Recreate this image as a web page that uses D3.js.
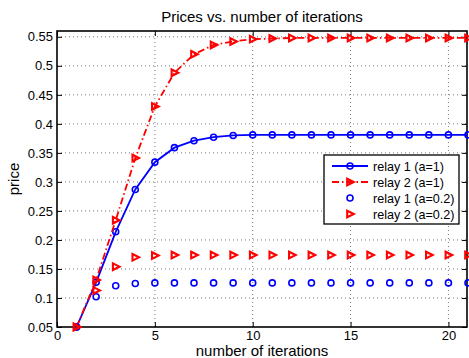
<!DOCTYPE html>
<html>
<head>
<meta charset="utf-8">
<script src="https://cdn.jsdelivr.net/npm/d3@7"></script>
<style>
  body { margin: 0; background: #fff; }
  svg { display: block; font-family: "Liberation Sans", Arial, sans-serif; }
</style>
</head>
<body>
<svg id="chart" width="469" height="358"></svg>
<script>
// Iteration index
const iterations = d3.range(1, 22);

// Price trajectories for each relay and step size
const relay1_a1 = [0.05, 0.127, 0.214, 0.287, 0.334, 0.359, 0.371, 0.377, 0.380, 0.381, 0.381, 0.381, 0.381, 0.381, 0.381, 0.381, 0.381, 0.381, 0.381, 0.381, 0.381];
const relay2_a1 = [0.05, 0.131, 0.234, 0.341, 0.430, 0.488, 0.520, 0.536, 0.542, 0.546, 0.547, 0.548, 0.548, 0.548, 0.548, 0.548, 0.548, 0.548, 0.548, 0.548, 0.548];
const relay1_a02 = [0.05, 0.102, 0.121, 0.125, 0.126, 0.126, 0.126, 0.126, 0.126, 0.126, 0.126, 0.126, 0.126, 0.126, 0.126, 0.126, 0.126, 0.126, 0.126, 0.126, 0.126];
const relay2_a02 = [0.05, 0.113, 0.154, 0.170, 0.173, 0.174, 0.174, 0.174, 0.174, 0.174, 0.174, 0.174, 0.174, 0.174, 0.174, 0.174, 0.174, 0.174, 0.174, 0.174, 0.174];

const xTicks = [0, 5, 10, 15, 20];
const yTicks = [0.05, 0.1, 0.15, 0.2, 0.25, 0.3, 0.35, 0.4, 0.45, 0.5, 0.55];
const legendLabels = ["relay 1 (a=1)", "relay 2 (a=1)", "relay 1 (a=0.2)", "relay 2 (a=0.2)"];

const svg = d3.select("#chart");
const margin = { left: 57, top: 31, right: 1, bottom: 31 };
const W = 469, H = 358;
const x = d3.scaleLinear().domain([0, 21]).range([margin.left, W - margin.right]);
const y = d3.scaleLinear().domain([0.05, 0.56]).range([H - margin.bottom, margin.top]);

// Dotted grid
const grid = svg.append("g").attr("stroke", "#555").attr("stroke-width", 0.8).attr("stroke-dasharray", "1,3");
grid.selectAll(".gx").data(xTicks.filter(d => d > 0)).join("line")
  .attr("x1", d => x(d)).attr("x2", d => x(d))
  .attr("y1", y.range()[0]).attr("y2", y.range()[1]);
grid.selectAll(".gy").data(yTicks.filter(d => d > 0.05)).join("line")
  .attr("x1", x.range()[0]).attr("x2", x.range()[1])
  .attr("y1", d => y(d)).attr("y2", d => y(d));

// Axes with inward ticks
const xAxis = d3.axisBottom(x).tickValues(xTicks).tickSize(-5).tickPadding(4).tickFormat(d3.format("d"));
const yAxis = d3.axisLeft(y).tickValues(yTicks).tickSize(-5).tickPadding(4).tickFormat(d => d3.format("")(+d.toFixed(2)));
const gx = svg.append("g").attr("transform", `translate(0,${y.range()[0]})`).call(xAxis);
const gy = svg.append("g").attr("transform", `translate(${x.range()[0]},0)`).call(yAxis);
// mirrored ticks on top and right
const gxt = svg.append("g").attr("transform", `translate(0,${y.range()[1]})`).call(d3.axisTop(x).tickValues(xTicks).tickSize(-5).tickFormat(""));
const gyr = svg.append("g").attr("transform", `translate(${x.range()[1] - 1},0)`).call(d3.axisRight(y).tickValues(yTicks).tickSize(-5).tickFormat(""));
[gx, gy, gxt, gyr].forEach(g => {
  g.select(".domain").remove();
  g.selectAll("line").attr("stroke", "#000").attr("stroke-width", 1);
  g.selectAll("text").attr("fill", "#000").attr("font-size", 13).attr("font-family", "Liberation Sans, Arial, sans-serif");
});

// Plot frame
svg.append("rect")
  .attr("x", x.range()[0]).attr("y", y.range()[1])
  .attr("width", x.range()[1] - x.range()[0] - 1).attr("height", y.range()[0] - y.range()[1])
  .attr("fill", "none").attr("stroke", "#000").attr("stroke-width", 1.6);

const blue = "#0000ff", red = "#ff0000";
const line = d3.line().x((d, i) => x(iterations[i])).y(d => y(d));

function circles(data, g) {
  g.selectAll("circle").data(data).join("circle")
    .attr("cx", (d, i) => x(iterations[i])).attr("cy", d => y(d)).attr("r", 3)
    .attr("fill", "none").attr("stroke", blue).attr("stroke-width", 1.6);
}
const triPath = "M-2.8,-3.3L3.8,0L-2.8,3.3Z";
function triangles(data, g) {
  g.selectAll("path").data(data).join("path")
    .attr("transform", (d, i) => `translate(${x(iterations[i])},${y(d)})`)
    .attr("d", triPath)
    .attr("fill", "none").attr("stroke", red).attr("stroke-width", 2.1).attr("stroke-linejoin", "miter");
}

// relay 1 (a=1)
svg.append("path").datum(relay1_a1).attr("d", line)
  .attr("fill", "none").attr("stroke", blue).attr("stroke-width", 1.8);
circles(relay1_a1, svg.append("g"));
// relay 2 (a=1)
svg.append("path").datum(relay2_a1).attr("d", line)
  .attr("fill", "none").attr("stroke", red).attr("stroke-width", 1.8).attr("stroke-dasharray", "7,3,1.5,3");
triangles(relay2_a1, svg.append("g"));
// markers only for a=0.2
circles(relay1_a02, svg.append("g"));
triangles(relay2_a02, svg.append("g"));

// Title and axis labels
svg.append("text").attr("x", 262).attr("y", 22).attr("text-anchor", "middle")
  .attr("font-size", 15).text("Prices vs. number of iterations");
svg.append("text").attr("x", 262).attr("y", 356).attr("text-anchor", "middle")
  .attr("font-size", 15).text("number of iterations");
svg.append("text").attr("transform", `translate(19,${(y.range()[0] + y.range()[1]) / 2}) rotate(-90)`)
  .attr("text-anchor", "middle").attr("font-size", 15).text("price");

// Legend
const lg = svg.append("g");
lg.append("rect").attr("x", 324).attr("y", 155).attr("width", 135).attr("height", 69)
  .attr("fill", "#fff").attr("stroke", "#000").attr("stroke-width", 1.3);
const rowY = [166, 182, 198, 214];
const sx0 = 332, sx1 = 368, sxm = 350;
lg.append("line").attr("x1", sx0).attr("x2", sx1).attr("y1", rowY[0]).attr("y2", rowY[0])
  .attr("stroke", blue).attr("stroke-width", 1.8);
lg.append("circle").attr("cx", sxm).attr("cy", rowY[0]).attr("r", 3)
  .attr("fill", "none").attr("stroke", blue).attr("stroke-width", 1.6);
lg.append("line").attr("x1", sx0).attr("x2", sx1).attr("y1", rowY[1]).attr("y2", rowY[1])
  .attr("stroke", red).attr("stroke-width", 1.8).attr("stroke-dasharray", "7,3,1.5,3");
lg.append("path").attr("transform", `translate(${sxm},${rowY[1]})`).attr("d", triPath)
  .attr("fill", "none").attr("stroke", red).attr("stroke-width", 2.1);
lg.append("circle").attr("cx", sxm).attr("cy", rowY[2]).attr("r", 3)
  .attr("fill", "none").attr("stroke", blue).attr("stroke-width", 1.6);
lg.append("path").attr("transform", `translate(${sxm},${rowY[3]})`).attr("d", triPath)
  .attr("fill", "none").attr("stroke", red).attr("stroke-width", 2.1);
lg.selectAll("text.lbl").data(legendLabels).join("text")
  .attr("x", 373).attr("y", (d, i) => rowY[i] + 4.5).attr("font-size", 12.6).text(d => d);
</script>
</body>
</html>
